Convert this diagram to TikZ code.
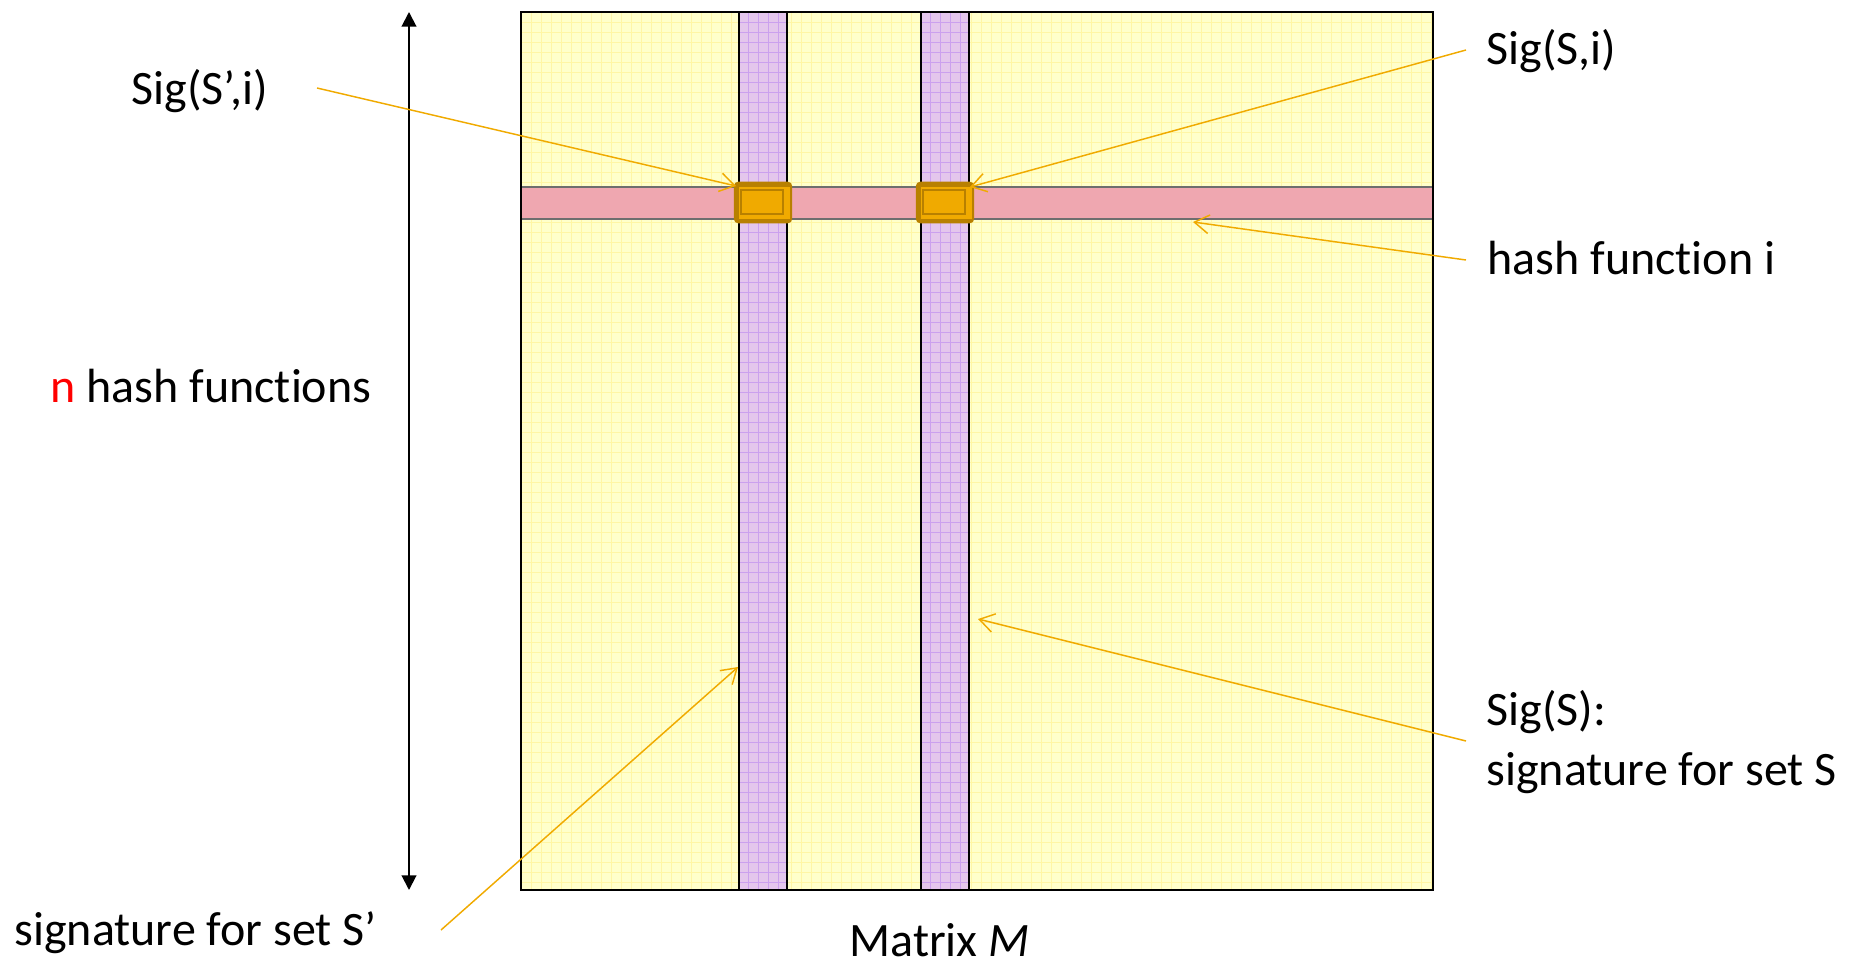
\documentclass[tikz,border=0pt]{standalone}
\usepackage{fontspec}
\setmainfont[Ligatures=NoCommon]{Carlito}
\usetikzlibrary{arrows.meta}

\definecolor{mtxyellow}{RGB}{255,255,203}
\definecolor{mtxgrid}{RGB}{255,246,165}
\definecolor{colpurple}{RGB}{228,198,236}
\definecolor{colgrid}{RGB}{203,160,238}
\definecolor{bandpink}{RGB}{239,167,176}
\definecolor{bandgrey}{RGB}{110,110,110}
\definecolor{golddark}{RGB}{184,128,0}
\definecolor{goldorange}{RGB}{240,170,0}
\definecolor{calloutorange}{RGB}{240,170,0}

\tikzset{every picture/.style={line width=0.75pt},
  callout/.style={color=calloutorange, line width=1.1pt, -{Straight Barb[length=11pt,width=14pt]}},
  lbl/.style={anchor=base west, inner sep=0pt, font=\fontsize{36}{45}\selectfont},
  sigbox/.style={draw=golddark, fill=golddark, rounded corners=3pt, minimum width=43pt, minimum height=30.5pt, inner sep=0pt}}

\begin{document}
\begin{tikzpicture}[x=0.75pt,y=0.75pt,yscale=-1,xscale=1]
\useasboundingbox (0,0) rectangle (1862,966);

%Shape: Rectangle [matrix background]
\fill [mtxyellow] (521,12) rectangle (1433,890);
\foreach \gx in {531,541,...,1431} \draw [mtxgrid, line width=0.5pt] (\gx,12) -- (\gx,890);
\foreach \gy in {22,32,...,882} \draw [mtxgrid, line width=0.5pt] (521,\gy) -- (1433,\gy);

%Shape: Rectangle [columns S' and S]
\foreach \cx in {739,921} {
  \fill [colpurple] (\cx,12) rectangle ++(48,878);
  \foreach \dx in {9,19,29,39} \draw [colgrid, line width=0.6pt] (\cx+\dx,12) -- (\cx+\dx,890);
  \foreach \gy in {22,32,...,882} \draw [colgrid, line width=0.6pt] (\cx,\gy) -- (\cx+48,\gy);
  \draw [line width=1.5pt] (\cx,12) -- (\cx,890) (\cx+48,12) -- (\cx+48,890);
}

%Shape: Rectangle [row of hash function i]
\fill [bandpink] (521,187) rectangle (1433,219);
\draw [bandgrey, line width=1.2pt] (521,187) -- (1433,187) (521,219) -- (1433,219);

%Shape: Rectangle [matrix frame]
\draw [line width=1.5pt] (521,12) rectangle (1433,890);

%Shape: Rounded Rectangle [cells Sig(S',i) and Sig(S,i)]
\foreach \nm/\cx in {cellSp/763, cellS/945} {
  \node [sigbox] (\nm) at (\cx,202.5) {};
  \fill [goldorange] ([shift={(5,5)}]\nm.north west) rectangle ([shift={(-2.4,-4)}]\nm.south east);
  \draw [golddark, line width=1.5pt] ([shift={(7.5,8.7)}]\nm.north west) rectangle ([shift={(-9,-9.5)}]\nm.south east);
}

%Straight Lines [n hash functions]
\coordinate (nTop) at (409,12);
\coordinate (nBot) at (409,890);
\draw [line width=1.5pt, {Triangle[length=11pt,width=11pt]}-{Triangle[length=11pt,width=11pt]}] (nTop) -- (nBot);

% Text Node
\node [lbl] (sigSpiTxt) at (131,105) {Sig(S’,i)};
% Text Node
\node [lbl] (sigSiTxt) at (1486,65) {Sig(S,i)};
% Text Node
\node [lbl] (hashiTxt) at (1487,275) {hash function i};
% Text Node
\node [lbl] (nfunTxt) at (50,402) {\textcolor{red}{n} hash functions};
% Text Node
\node [lbl, align=left] (sigSTxt) at (1486,785) {Sig(S):\\signature for set S};
% Text Node
\node [lbl] (sigSpTxt) at (14,945) {signature for set S’};
% Text Node
\node [lbl] (matTxt) at (849,956) {Matrix \textit{M}};

%Straight Lines [callouts]
\coordinate (sigSpiFrom) at (317,88);   \coordinate (sigSpiTo) at (736,186);
\coordinate (sigSiFrom) at (1466,50);   \coordinate (sigSiTo) at (970,187);
\coordinate (hashiFrom) at (1466,260);  \coordinate (hashiTo) at (1193,222);
\coordinate (sigSFrom) at (1466,741);   \coordinate (sigSTo) at (978,619);
\coordinate (sigSpFrom) at (441,930);   \coordinate (sigSpTo) at (738,667);
\draw [callout] (sigSpiFrom) -- (sigSpiTo);
\draw [callout] (sigSiFrom) -- (sigSiTo);
\draw [callout] (hashiFrom) -- (hashiTo);
\draw [callout] (sigSFrom) -- (sigSTo);
\draw [callout] (sigSpFrom) -- (sigSpTo);

\end{tikzpicture}
\end{document}
